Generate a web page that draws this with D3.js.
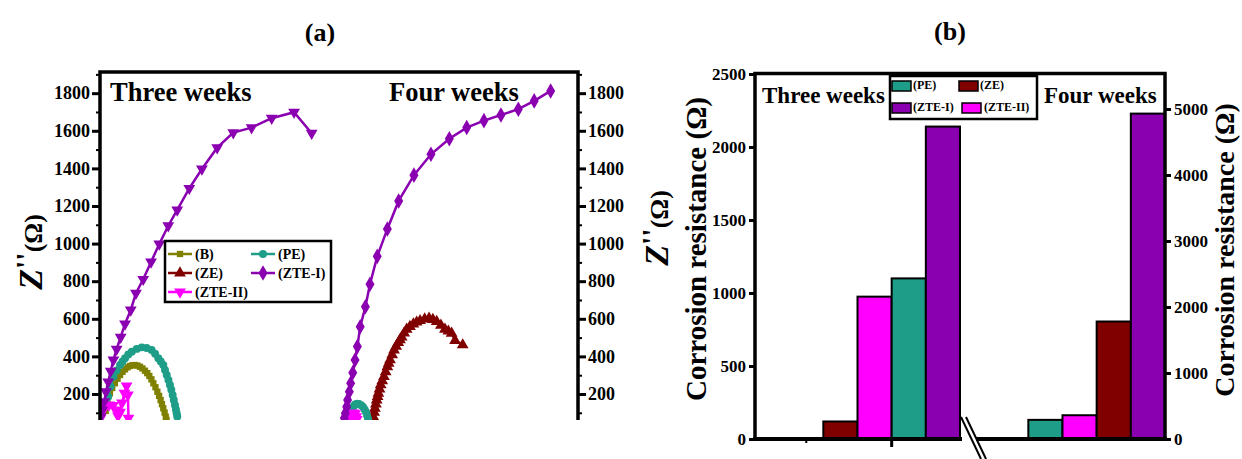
<!DOCTYPE html>
<html>
<head>
<meta charset="utf-8">
<script src="https://cdn.jsdelivr.net/npm/d3@7"></script>
<style>
body { margin: 0; background: #fff; }
text { font-family: "Liberation Serif", "Times New Roman", serif; font-weight: bold; fill: #000; }
</style>
</head>
<body>
<svg id="fig" width="1242" height="459"></svg>
<script>
// ---- data: Nyquist curves, [Z' , -Z''] in ohm ----
var w3_B = [[30,110],[40,150],[52,204],[64,232],[78,257],[92,281],[105,301],[118,318],[131,331],[144,342],[157,349],[170,353],[183,354],[196,351],[209,345],[222,336],[235,324],[247,311],[258,296],[269,278],[279,257],[290,236],[300,212],[309,190],[317,168],[324,146],[331,124],[338,101],[344,79],[348,62]];
var w3_PE = [[35,150],[43,186],[55,240],[70,292],[87,325],[105,354],[118,373],[131,390],[148,410],[166,425],[192,440],[218,448],[244,445],[270,434],[288,414],[305,390],[318,373],[331,354],[340,328],[349,301],[358,275],[366,248],[373,222],[380,195],[386,168],[392,142],[397,118],[401,97],[404,80]];
var w3_ZTE1 = [[4,79],[12,115],[22,159],[31,212],[43,265],[56,322],[70,381],[87,438],[108,502],[131,573],[161,647],[188,736],[226,810],[267,902],[310,998],[357,1095],[404,1179],[467,1294],[533,1397],[613,1510],[697,1590],[793,1617],[898,1667],[1015,1699],[1107,1587]];
var w3_ZTE2 = [[3,72],[10,104],[26,131],[47,142],[68,139],[84,115],[94,83],[105,104],[115,152],[128,205],[139,243],[146,195],[149,72]];

var w4_PE = [[1313,67],[1316,95],[1320,118],[1327,135],[1334,144],[1345,148],[1355,147],[1366,140],[1376,131],[1384,118],[1391,104],[1397,86],[1402,67]];
var w4_ZE = [[1425,62],[1429,79],[1434,102],[1438,124],[1443,146],[1447,168],[1452,186],[1456,204],[1462,226],[1468,248],[1476,270],[1485,292],[1494,318],[1503,345],[1510,363],[1517,381],[1528,408],[1538,434],[1549,454],[1560,473],[1569,488],[1578,502],[1591,524],[1604,544],[1621,559],[1639,572],[1656,582],[1674,590],[1698,598],[1721,603],[1741,596],[1761,585],[1783,565],[1804,544],[1822,534],[1839,523],[1857,484],[1897,461]];
var w4_ZTE1 = [[1278,72],[1283,97],[1290,132],[1295,168],[1304,212],[1311,257],[1322,313],[1334,381],[1346,452],[1361,558],[1388,664],[1412,784],[1450,932],[1503,1078],[1562,1227],[1642,1364],[1731,1475],[1827,1558],[1918,1617],[2008,1654],[2097,1684],[2188,1715],[2271,1759],[2357,1812]];
var w4_ZTE2 = [[1313,68],[1318,90],[1326,100],[1334,95],[1340,80],[1343,65]];

var nyqTicks = [200, 400, 600, 800, 1000, 1200, 1400, 1600, 1800];
var nyqMinor = [100, 300, 500, 700, 900, 1100, 1300, 1500, 1700, 1900];

// ---- data: corrosion resistance bars (ohm) ----
var threeOrder = ["(B)", "(ZE)", "(ZTE-II)", "(PE)", "(ZTE-I)"];
var threeValues = [0, 120, 975, 1100, 2140];
var fourOrder = ["(PE)", "(ZTE-II)", "(ZE)", "(ZTE-I)"];
var fourValues = [290, 360, 1780, 4930];
var leftTicks = [0, 500, 1000, 1500, 2000, 2500];
var rightTicks = [0, 1000, 2000, 3000, 4000, 5000];

var colors = {"(B)": "#808000", "(PE)": "#1e9e88", "(ZE)": "#800000", "(ZTE-I)": "#8a00b0", "(ZTE-II)": "#ff00ff"};

var svg = d3.select("#fig");
var fmt = d3.format("d");

// ================= panel (a) =================
var xa = d3.scaleLinear().domain([0, 2500]).range([100, 578]);
var ya = d3.scaleLinear().domain([0, 1910]).range([431.6, 72.5]);

svg.append("text").attr("x", 320).attr("y", 41).attr("text-anchor", "middle")
   .style("font-size", "26px").text("(a)");

svg.append("clipPath").attr("id", "clipA").append("rect")
   .attr("x", 100).attr("y", 72).attr("width", 478).attr("height", 348);

var sym = {
  square: d3.symbol().type(d3.symbolSquare).size(40),
  circle: d3.symbol().type(d3.symbolCircle).size(50),
  tri: d3.symbol().type(d3.symbolTriangle).size(60),
  diamond: d3.symbol().type(d3.symbolDiamond).size(70)
};

var curves = [
  {data: w3_B, name: "(B)", shape: "square", rot: 0},
  {data: w3_PE, name: "(PE)", shape: "circle", rot: 0},
  {data: w3_ZTE2, name: "(ZTE-II)", shape: "tri", rot: 180},
  {data: w3_ZTE1, name: "(ZTE-I)", shape: "tri", rot: 180},
  {data: w4_ZE, name: "(ZE)", shape: "tri", rot: 0},
  {data: w4_PE, name: "(PE)", shape: "circle", rot: 0},
  {data: w4_ZTE2, name: "(ZTE-II)", shape: "tri", rot: 180},
  {data: w4_ZTE1, name: "(ZTE-I)", shape: "diamond", rot: 0}
];

var line = d3.line().x(function(d){ return xa(d[0]); }).y(function(d){ return ya(d[1]); });
var plotA = svg.append("g").attr("clip-path", "url(#clipA)");

curves.forEach(function(c) {
  var g = plotA.append("g");
  g.append("path").datum(c.data).attr("d", line)
   .attr("fill", "none").attr("stroke", colors[c.name]).attr("stroke-width", 2.5);
  g.selectAll("path.m").data(c.data).enter().append("path").attr("class", "m")
   .attr("d", sym[c.shape])
   .attr("fill", colors[c.name])
   .attr("transform", function(d){ return "translate(" + xa(d[0]) + "," + ya(d[1]) + ") rotate(" + c.rot + ")"; });
});

function styleAxis(g, size) {
  g.select(".domain").remove();
  g.selectAll(".tick line").attr("stroke", "#000").attr("stroke-width", 3);
  g.selectAll(".tick text").style("font-size", size + "px").style("font-family", "Liberation Serif").style("font-weight", "bold");
}

var axL = svg.append("g").attr("transform", "translate(100,0)")
  .call(d3.axisLeft(ya).tickValues(nyqTicks).tickFormat(fmt).tickSize(8).tickPadding(2));
styleAxis(axL, 18);
var axLm = svg.append("g").attr("transform", "translate(100,0)")
  .call(d3.axisLeft(ya).tickValues(nyqMinor).tickSize(4).tickFormat(""));
styleAxis(axLm, 18);
axLm.selectAll(".tick line").attr("stroke-width", 2);

var axR = svg.append("g").attr("transform", "translate(578,0)")
  .call(d3.axisRight(ya).tickValues(nyqTicks).tickFormat(fmt).tickSize(8).tickPadding(2));
styleAxis(axR, 18);
var axRm = svg.append("g").attr("transform", "translate(578,0)")
  .call(d3.axisRight(ya).tickValues(nyqMinor).tickSize(4).tickFormat(""));
styleAxis(axRm, 18);
axRm.selectAll(".tick line").attr("stroke-width", 2);

svg.append("path").attr("d", "M100,420V72H578V420")
   .attr("fill", "none").attr("stroke", "#000").attr("stroke-width", 3.5);

svg.append("text").attr("x", 110).attr("y", 101).style("font-size", "26.5px").text("Three weeks");
svg.append("text").attr("x", 389).attr("y", 101).style("font-size", "26.5px").text("Four weeks");

function zLabel(x, y) {
  var t = svg.append("text").attr("text-anchor", "middle")
    .attr("transform", "translate(" + x + "," + y + ") rotate(-90)");
  t.append("tspan").style("font-style", "italic").style("font-size", "34px").text("Z");
  t.append("tspan").style("font-size", "30px").attr("dy", -6).text("''");
  t.append("tspan").style("font-size", "26px").attr("dy", 6).text("(Ω)");
}
zLabel(42, 252);
zLabel(668, 228);

// legend (a)
var legA = svg.append("g");
legA.append("rect").attr("x", 165).attr("y", 241).attr("width", 166).attr("height", 61)
   .attr("fill", "#fff").attr("stroke", "#000").attr("stroke-width", 2.5);
var legItems = [
  {name: "(B)", shape: "square", rot: 0, col: 0, row: 0},
  {name: "(PE)", shape: "circle", rot: 0, col: 1, row: 0},
  {name: "(ZE)", shape: "tri", rot: 0, col: 0, row: 1},
  {name: "(ZTE-I)", shape: "diamond", rot: 0, col: 1, row: 1},
  {name: "(ZTE-II)", shape: "tri", rot: 180, col: 0, row: 2}
];
legItems.forEach(function(d) {
  var x0 = 168 + d.col * 83, y0 = 254 + d.row * 19;
  legA.append("line").attr("x1", x0).attr("x2", x0 + 24).attr("y1", y0).attr("y2", y0)
    .attr("stroke", colors[d.name]).attr("stroke-width", 2.5);
  legA.append("path").attr("d", sym[d.shape]).attr("fill", colors[d.name])
    .attr("transform", "translate(" + (x0 + 12) + "," + y0 + ") rotate(" + d.rot + ")");
  legA.append("text").attr("x", x0 + 27).attr("y", y0 + 5).style("font-size", "14px").text(d.name);
});

// ================= panel (b) =================
var slots = ["s0"].concat(threeOrder.map(function(k){ return "3" + k; }), ["gapA", "gapB"], fourOrder.map(function(k){ return "4" + k; }));
var xb = d3.scaleBand().domain(slots).range([755, 1165]).padding(0);
var yb3 = d3.scaleLinear().domain([0, 2500]).range([439, 74]);
var yb4 = d3.scaleLinear().domain([0, 5530]).range([439, 74]);

svg.append("text").attr("x", 950).attr("y", 40).attr("text-anchor", "middle")
   .style("font-size", "26px").text("(b)");

var bars3 = threeOrder.map(function(k, i){ return {key: "3" + k, name: k, v: threeValues[i]}; }).filter(function(d){ return d.v > 0; });
var bars4 = fourOrder.map(function(k, i){ return {key: "4" + k, name: k, v: fourValues[i]}; });

svg.append("g").selectAll("rect").data(bars3).enter().append("rect")
  .attr("x", function(d){ return xb(d.key); }).attr("width", xb.bandwidth())
  .attr("y", function(d){ return yb3(d.v); }).attr("height", function(d){ return yb3(0) - yb3(d.v); })
  .attr("fill", function(d){ return colors[d.name]; }).attr("stroke", "#000").attr("stroke-width", 2);
svg.append("g").selectAll("rect").data(bars4).enter().append("rect")
  .attr("x", function(d){ return xb(d.key); }).attr("width", xb.bandwidth())
  .attr("y", function(d){ return yb4(d.v); }).attr("height", function(d){ return yb4(0) - yb4(d.v); })
  .attr("fill", function(d){ return colors[d.name]; }).attr("stroke", "#000").attr("stroke-width", 2);

var axBL = svg.append("g").attr("transform", "translate(755,0)")
  .call(d3.axisLeft(yb3).tickValues(leftTicks).tickFormat(fmt).tickSize(6).tickPadding(3));
styleAxis(axBL, 17);
var axBR = svg.append("g").attr("transform", "translate(1165,0)")
  .call(d3.axisRight(yb4).tickValues(rightTicks).tickFormat(fmt).tickSize(6).tickPadding(3));
styleAxis(axBR, 17);

// frame and broken bottom axis
svg.append("path").attr("d", "M755,439V73.5H1165V439")
   .attr("fill", "none").attr("stroke", "#000").attr("stroke-width", 3.5);
svg.append("line").attr("x1", 753).attr("x2", 962).attr("y1", 439).attr("y2", 439)
   .attr("stroke", "#000").attr("stroke-width", 4);
svg.append("line").attr("x1", 976).attr("x2", 1167).attr("y1", 439).attr("y2", 439)
   .attr("stroke", "#000").attr("stroke-width", 4);
svg.append("line").attr("x1", 961).attr("y1", 417).attr("x2", 981).attr("y2", 459)
   .attr("stroke", "#000").attr("stroke-width", 2);
svg.append("line").attr("x1", 966).attr("y1", 417).attr("x2", 986).attr("y2", 459)
   .attr("stroke", "#000").attr("stroke-width", 2);
var tickB = xb("3(B)") + xb.bandwidth() / 2;
svg.append("line").attr("x1", tickB).attr("x2", tickB).attr("y1", 439).attr("y2", 443)
   .attr("stroke", "#000").attr("stroke-width", 2);
svg.append("line").attr("x1", xb("3(PE)")).attr("x2", xb("3(PE)")).attr("y1", 439).attr("y2", 447)
   .attr("stroke", "#000").attr("stroke-width", 3);

svg.append("text").attr("x", 762).attr("y", 103).style("font-size", "23px").text("Three weeks");
svg.append("text").attr("x", 1044).attr("y", 103).style("font-size", "23px").text("Four weeks");

svg.append("text").attr("text-anchor", "middle").attr("transform", "translate(706,249) rotate(-90)")
   .style("font-size", "29px").text("Corrosion resistance (Ω)");
svg.append("text").attr("text-anchor", "middle").attr("transform", "translate(1234,250) rotate(-90)")
   .style("font-size", "28px").text("Corrosion resistance (Ω)");

// legend (b)
var legB = svg.append("g");
legB.append("rect").attr("x", 890).attr("y", 76).attr("width", 147).attr("height", 43)
   .attr("fill", "#fff").attr("stroke", "#000").attr("stroke-width", 2.5);
var legBItems = [
  {name: "(PE)", sx: 892, tx: 913, row: 0},
  {name: "(ZE)", sx: 959, tx: 980, row: 0},
  {name: "(ZTE-I)", sx: 892, tx: 913, row: 1},
  {name: "(ZTE-II)", sx: 962, tx: 984, row: 1}
];
legBItems.forEach(function(d) {
  var y0 = 81 + d.row * 22;
  legB.append("rect").attr("x", d.sx).attr("y", y0).attr("width", 19).attr("height", 10)
    .attr("fill", colors[d.name]).attr("stroke", "#000").attr("stroke-width", 1.5);
  legB.append("text").attr("x", d.tx).attr("y", y0 + 8).style("font-size", "12px").text(d.name);
});
</script>
</body>
</html>
